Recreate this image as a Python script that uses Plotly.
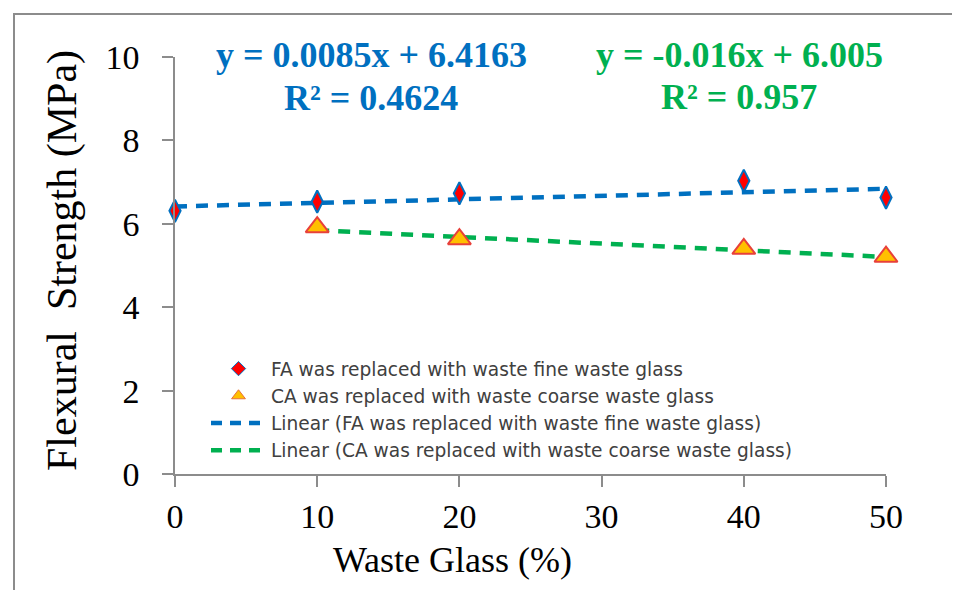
import plotly.graph_objects as go

# ---- data ----
x_fa = [0, 10, 20, 40, 50]
y_fa = [6.31, 6.53, 6.73, 7.03, 6.63]
x_ca = [10, 20, 40, 50]
y_ca = [5.92, 5.63, 5.40, 5.21]

# displayed trendline equations (slope, intercept)
fa_fit = [0.0085, 6.4163]
ca_fit = [-0.016, 6.005]
fa_fit_range = [0, 50]
ca_fit_range = [10, 50]

x_ticks = [0, 10, 20, 30, 40, 50]
y_ticks = [0, 2, 4, 6, 8, 10]

name_fa = "FA was replaced with waste fine waste glass"
name_ca = "CA was replaced with waste coarse waste glass"
eq_fa = ["y = 0.0085x + 6.4163", "R² = 0.4624"]
eq_ca = ["y = -0.016x + 6.005", "R² = 0.957"]

BLUE = "#0070C0"
GREEN = "#00B050"

# ---- layout geometry (page pixels; page body has an 8px margin) ----
OFF = 8
W, H = 960 - OFF, 590 - OFF
L, R, T, B = 175, 886, 57, 474


def px(X):
    return (X - L) / (R - L)


def py(Y):
    return (B - Y) / (B - T)


fa_line_y = [fa_fit[0] * v + fa_fit[1] for v in fa_fit_range]
ca_line_y = [ca_fit[0] * v + ca_fit[1] for v in ca_fit_range]

fig = go.Figure()

# trend lines (drawn below markers)
fig.add_trace(go.Scatter(
    x=fa_fit_range, y=fa_line_y, mode="lines", showlegend=False,
    line=dict(color=BLUE, width=4.5, dash="12px,9px"), hoverinfo="skip"))
fig.add_trace(go.Scatter(
    x=ca_fit_range, y=ca_line_y, mode="lines", showlegend=False,
    line=dict(color=GREEN, width=4.5, dash="12px,9px"), hoverinfo="skip"))

# data markers
fig.add_trace(go.Scatter(
    x=x_fa, y=y_fa, mode="markers", showlegend=False, cliponaxis=False,
    marker=dict(symbol="diamond-tall", size=16, color="#FF0000",
                line=dict(color=BLUE, width=2))))
fig.add_trace(go.Scatter(
    x=x_ca, y=y_ca, mode="markers", showlegend=False, cliponaxis=False,
    marker=dict(symbol="triangle-up", size=20, color="#FFC000",
                line=dict(color="#E8403A", width=2))))

# legend entries
fig.add_trace(go.Scatter(
    x=[None], y=[None], mode="markers", name=name_fa,
    marker=dict(symbol="diamond", size=11, color="#FF0000",
                line=dict(color=BLUE, width=1))))
fig.add_trace(go.Scatter(
    x=[None], y=[None], mode="markers", name=name_ca,
    marker=dict(symbol="triangle-up", size=12, color="#FFC000",
                line=dict(color="#E8703A", width=1))))
fig.add_trace(go.Scatter(
    x=[None], y=[None], mode="lines", name="Linear (" + name_fa + ")",
    line=dict(color=BLUE, width=4.5, dash="11px,8px")))
fig.add_trace(go.Scatter(
    x=[None], y=[None], mode="lines", name="Linear (" + name_ca + ")",
    line=dict(color=GREEN, width=4.5, dash="11px,8px")))

axis_common = dict(
    showgrid=False, zeroline=False, showline=True, linecolor="#8C8C8C",
    linewidth=1.5, ticks="outside", ticklen=11, tickcolor="#8C8C8C",
    tickwidth=1.5,
    tickfont=dict(family="Liberation Serif", size=34, color="#000000"),
)

fig.update_xaxes(range=[0, 50], tickvals=x_ticks, ticklabelstandoff=0,
                 **axis_common)
fig.update_yaxes(range=[0, 10], tickvals=y_ticks, ticklabelstandoff=16,
                 **axis_common)

annotations = []
for txt, yy in zip(eq_fa, [55, 98]):
    annotations.append(dict(
        x=px(371), y=py(yy), xref="paper", yref="paper", text="<b>%s</b>" % txt,
        showarrow=False, xanchor="center", yanchor="middle",
        font=dict(family="Liberation Serif", size=36, color=BLUE)))
for txt, yy in zip(eq_ca, [55, 97]):
    annotations.append(dict(
        x=px(739), y=py(yy), xref="paper", yref="paper", text="<b>%s</b>" % txt,
        showarrow=False, xanchor="center", yanchor="middle",
        font=dict(family="Liberation Serif", size=36, color=GREEN)))

annotations.append(dict(
    x=px(452), y=py(560), xref="paper", yref="paper", text="Waste Glass (%)",
    showarrow=False, xanchor="center", yanchor="middle",
    font=dict(family="Liberation Serif", size=36, color="#000000")))
annotations.append(dict(
    x=px(63), y=py(261), xref="paper", yref="paper",
    text="Flexural  Strength (MPa)", textangle=-90,
    showarrow=False, xanchor="center", yanchor="middle",
    font=dict(family="Liberation Serif", size=42, color="#000000")))

fig.update_layout(
    width=W, height=H,
    margin=dict(l=L - OFF, r=960 - R, t=T - OFF, b=590 - B),
    paper_bgcolor="white", plot_bgcolor="white",
    annotations=annotations,
    showlegend=True,
    legend=dict(
        x=px(206), y=py(350), xanchor="left", yanchor="top",
        bgcolor="rgba(0,0,0,0)", itemwidth=55, tracegroupgap=0,
        font=dict(family="DejaVu Sans", size=18.6, color="#404040"),
    ),
    shapes=[dict(
        type="rect", xref="paper", yref="paper",
        x0=px(14), x1=px(975), y0=py(605), y1=py(14),
        line=dict(color="#8C8C8C", width=2), fillcolor="rgba(0,0,0,0)",
        layer="below")],
)

fig.write_html("out.html")
